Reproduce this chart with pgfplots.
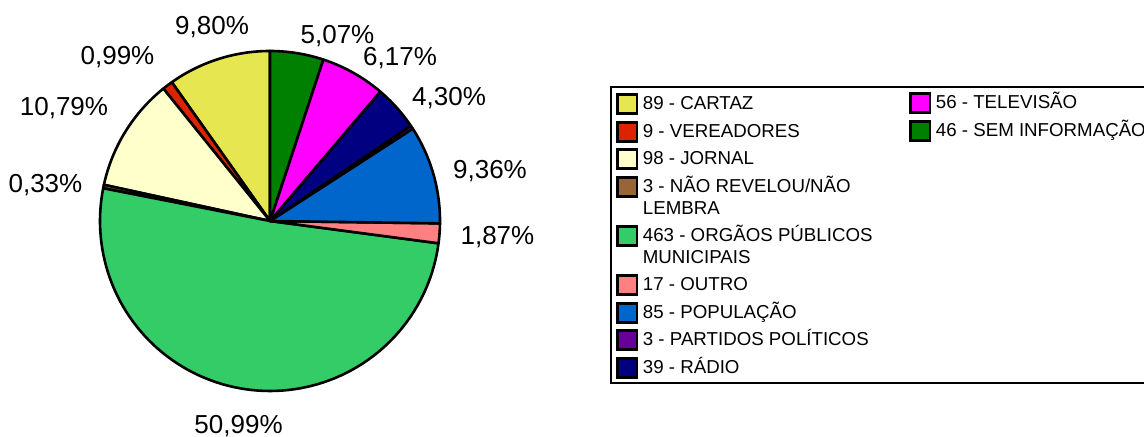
\documentclass[border=0pt]{standalone}
\usepackage{fontspec}
\setmainfont{Liberation Sans}
\usepackage{pgfplots}
\pgfplotsset{compat=1.18}

\definecolor{cartaz}{HTML}{E6E650}
\definecolor{vereadores}{HTML}{DD2200}
\definecolor{jornal}{HTML}{FFFFCC}
\definecolor{naorev}{HTML}{996633}
\definecolor{orgaos}{HTML}{33CC66}
\definecolor{outro}{HTML}{FF8080}
\definecolor{populacao}{HTML}{0066CC}
\definecolor{partidos}{HTML}{660099}
\definecolor{radio}{HTML}{000080}
\definecolor{televisao}{HTML}{FF00FF}
\definecolor{seminfo}{HTML}{008000}

% total of all answers
\def\total{908}
\def\startang{90}
% one wedge, counter-clockwise from the previous one
\newcommand\slice[2]{%
  \pgfmathsetmacro\endang{\startang+(360/\total)*#1}%
  \edef\temp{\noexpand\addplot[draw=black, line width=1.3pt, line join=round,
      fill=#2, domain=\startang:\endang, samples=90]
      ({cos(x)},{sin(x)}) -- (axis cs:0,0) -- cycle;}%
  \temp
  \global\let\startang\endang}

\newcommand\pct[3]{\node[anchor=base, inner sep=0pt, yshift=-4.65pt,
  font=\fontsize{13}{15}\selectfont] at (axis cs:#1,#2) {#3};}

% legend entry: x of square, top of square, colour, text (pixel units)
\newcommand\entry[4]{%
  \filldraw[fill=#3, draw=black, line width=1.2pt] (#1,#2+0.5) rectangle (#1+19.5,#2+19.5);
  \node[anchor=base west, inner sep=0pt] at (#1+25,#2+16) {#4};}

\begin{document}
\begin{tikzpicture}[font=\fontsize{9.35}{11}\selectfont]
\path[use as bounding box] (0,0) rectangle (572pt,218.5pt);
\begin{axis}[
  at={(135pt,108pt)}, anchor=center,
  hide axis, scale only axis, clip=false,
  width=170pt, height=170pt,
  xmin=-1, xmax=1, ymin=-1, ymax=1
]
\slice{89}{cartaz}
\slice{9}{vereadores}
\slice{98}{jornal}
\slice{3}{naorev}
\slice{463}{orgaos}
\slice{17}{outro}
\slice{85}{populacao}
\slice{3}{partidos}
\slice{39}{radio}
\slice{56}{televisao}
\slice{46}{seminfo}

\pct{-0.341}{1.150}{9,80\%}
\pct{-0.897}{0.976}{0,99\%}
\pct{-1.212}{0.676}{10,79\%}
\pct{-1.321}{0.224}{0,33\%}
\pct{-0.185}{-1.194}{50,99\%}
\pct{1.338}{-0.082}{1,87\%}
\pct{1.294}{0.306}{9,36\%}
\pct{1.053}{0.735}{4,30\%}
\pct{0.765}{0.968}{6,17\%}
\pct{0.397}{1.100}{5,07\%}
\end{axis}

\begin{scope}[x=0.5pt, y=-0.5pt, yshift=218.5pt]
\draw[line width=1.25pt] (611,87) rectangle (1170,383);
\entry{617.5}{94}{cartaz}{89 - CARTAZ}
\entry{617.5}{122}{vereadores}{9 - VEREADORES}
\entry{617.5}{149}{jornal}{98 - JORNAL}
\entry{617.5}{177}{naorev}{3 - NÃO REVELOU/NÃO}
\node[anchor=base west, inner sep=0pt] at (642.5,215) {LEMBRA};
\entry{617.5}{226}{orgaos}{463 - ORGÃOS PÚBLICOS}
\node[anchor=base west, inner sep=0pt] at (642.5,264) {MUNICIPAIS};
\entry{617.5}{275}{outro}{17 - OUTRO}
\entry{617.5}{303}{populacao}{85 - POPULAÇÃO}
\entry{617.5}{330}{partidos}{3 - PARTIDOS POLÍTICOS}
\entry{617.5}{358}{radio}{39 - RÁDIO}
\entry{910.5}{93}{televisao}{56 - TELEVISÃO}
\entry{910.5}{121}{seminfo}{46 - SEM INFORMAÇÃO}
\end{scope}
\end{tikzpicture}
\end{document}
